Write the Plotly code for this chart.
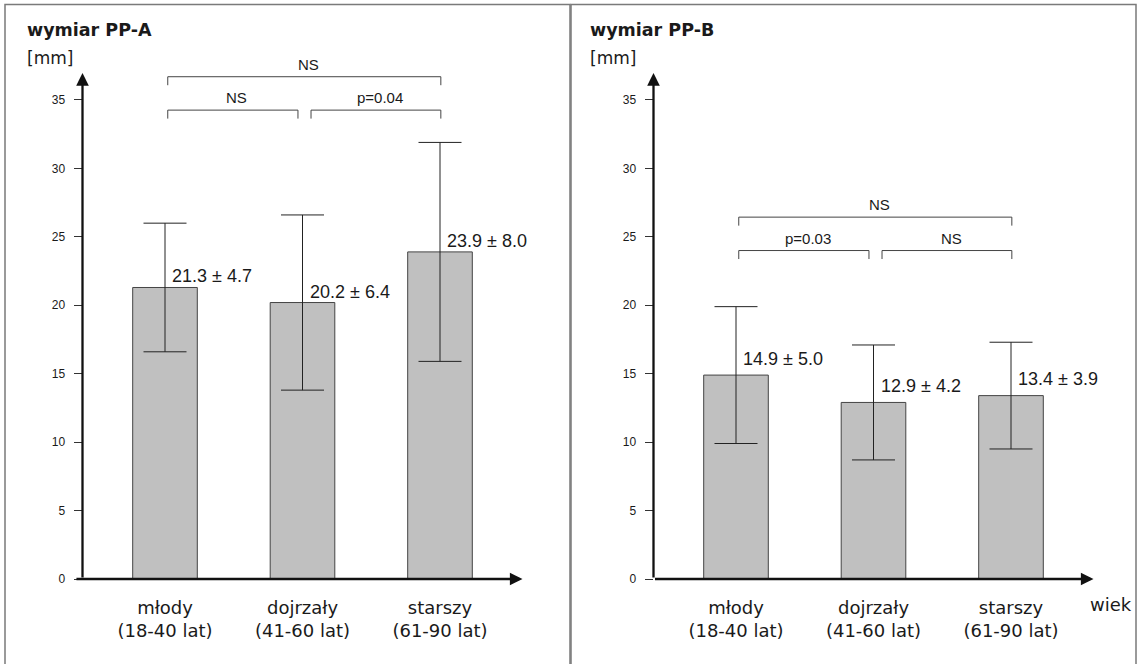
import plotly.graph_objects as go

# ---------------- data ----------------
categories = ["młody<br>(18-40 lat)", "dojrzały<br>(41-60 lat)", "starszy<br>(61-90 lat)"]
x_pos = [0, 1, 2]
pp_a_mean = [21.3, 20.2, 23.9]
pp_a_sd = [4.7, 6.4, 8.0]
pp_b_mean = [14.9, 12.9, 13.4]
pp_b_sd = [5.0, 4.2, 3.9]
y_ticks = [0, 5, 10, 15, 20, 25, 30, 35]
pp_a_tests = [(0, 2, "NS"), (0, 1, "NS"), (1, 2, "p=0.04")]
pp_b_tests = [(0, 2, "NS"), (0, 1, "p=0.03"), (1, 2, "NS")]
titles = ["wymiar PP-A", "wymiar PP-B"]
unit = "[mm]"
x_title = "wiek"

# ---------------- layout constants ----------------
W, H = 1138, 664
Y0_PX, PX_PER_UNIT = 579.0, 13.686
Y_MAX = 40
X_RANGE = [-0.6, 2.6]
ydom = [(H - Y0_PX) / H, (H - (Y0_PX - Y_MAX * PX_PER_UNIT)) / H]
xdoms = [[82.5 / W, 522.5 / W], [653.5 / W, 1093.5 / W]]

TXT = "#1a1a1a"
fig = go.Figure()

panels = [
    (pp_a_mean, pp_a_sd, pp_a_tests, "x", "y", 34.26, 11),
    (pp_b_mean, pp_b_sd, pp_b_tests, "x2", "y2", 24.0, 16.5),
]

annotations = []
shapes = []

for k, (mean, sd, tests, xr, yr, base_level, lab_shift) in enumerate(panels):
    fig.add_trace(go.Bar(
        x=x_pos, y=mean, width=0.47,
        marker=dict(color="#c0c0c0", line=dict(color="#444444", width=1)),
        error_y=dict(type="data", array=sd, visible=True, color="#222222",
                     thickness=1, width=21.5),
        xaxis=xr, yaxis=yr, showlegend=False, hoverinfo="skip",
    ))
    # value labels
    for xi, m, s in zip(x_pos, mean, sd):
        annotations.append(dict(
            x=xi, y=m, xref=xr, yref=yr, text=f"{m:.1f} ± {s:.1f}",
            showarrow=False, xanchor="left", yanchor="middle",
            xshift=5, yshift=lab_shift,
            font=dict(family="Liberation Sans, Arial", size=18, color=TXT),
        ))
    # significance brackets
    for (i, j, lab) in tests:
        level = base_level + (2.44 if j - i == 2 else 0)
        xl = i + (0.02 if i == 0 else 0.062)
        xr_end = j + (-0.033 if j == 1 else 0.006)
        shapes.append(dict(
            type="path", xref=xr, yref=yr,
            path=f"M {xl} {level - 0.62} L {xl} {level} L {xr_end} {level} L {xr_end} {level - 0.62}",
            line=dict(color="#444444", width=1),
        ))
        annotations.append(dict(
            x=(xl + xr_end) / 2 + 0.03, y=level, xref=xr, yref=yr, text=lab,
            showarrow=False, xanchor="center", yanchor="bottom", yshift=2,
            font=dict(family="Liberation Sans, Arial", size=15, color=TXT),
        ))
    # axes with arrows
    annotations.append(dict(
        x=X_RANGE[0], y=36.97, ax=X_RANGE[0], ay=0, xref=xr, yref=yr,
        axref=xr, ayref=yr, text="", showarrow=True, arrowhead=2,
        arrowsize=1.1, arrowwidth=2.3, arrowcolor="#111111",
    ))
    annotations.append(dict(
        x=X_RANGE[1], y=0, ax=(-0.655 if k == 0 else X_RANGE[0]), ay=0, xref=xr, yref=yr,
        axref=xr, ayref=yr, text="", showarrow=True, arrowhead=2,
        arrowsize=1.1, arrowwidth=2.3, arrowcolor="#111111",
    ))

# panel titles
for k, x_left in enumerate([25, 588]):
    annotations.append(dict(
        x=x_left / W, y=(H - 30) / H, xref="paper", yref="paper", text=f"<b>{titles[k]}</b>",
        showarrow=False, xanchor="left", yanchor="middle",
        font=dict(family="DejaVu Sans", size=17.5, color=TXT),
    ))
    annotations.append(dict(
        x=x_left / W, y=(H - 58.5) / H, xref="paper", yref="paper", text=unit,
        showarrow=False, xanchor="left", yanchor="middle",
        font=dict(family="DejaVu Sans", size=17, color=TXT),
    ))

annotations.append(dict(
    x=1088 / W, y=(H - 604) / H, xref="paper", yref="paper", text=x_title,
    showarrow=False, xanchor="left", yanchor="middle",
    font=dict(family="DejaVu Sans", size=18, color=TXT),
))

# panel frames
for (x0, x1) in [(5, 570), (571, 1136)]:
    shapes.append(dict(
        type="rect", xref="paper", yref="paper",
        x0=x0 / W, x1=x1 / W, y0=-0.02, y1=(H - 4.5) / H,
        line=dict(color="#7a7a7a", width=1.5), fillcolor="rgba(0,0,0,0)",
    ))

xaxis_common = dict(
    range=X_RANGE, tickmode="array", tickvals=x_pos, ticktext=categories,
    showgrid=False, zeroline=False, showline=False, ticks="",
    tickfont=dict(family="DejaVu Sans", size=18, color=TXT), fixedrange=True,
    automargin=False, ticklabelstandoff=16,
)
yaxis_common = dict(
    range=[0, Y_MAX], domain=ydom, tickmode="array", tickvals=y_ticks,
    showgrid=False, zeroline=False, showline=False,
    ticks="outside", ticklen=8, tickwidth=1, tickcolor="#333333",
    tickfont=dict(family="Liberation Sans, Arial", size=12, color=TXT),
    ticklabelstandoff=6, fixedrange=True, automargin=False,
)

fig.update_layout(
    width=W, height=H, autosize=False,
    margin=dict(l=0, r=0, t=0, b=0),
    paper_bgcolor="white", plot_bgcolor="white",
    xaxis=dict(domain=xdoms[0], anchor="y", **xaxis_common),
    yaxis=dict(anchor="x", **yaxis_common),
    xaxis2=dict(domain=xdoms[1], anchor="y2", **xaxis_common),
    yaxis2=dict(anchor="x2", **yaxis_common),
    annotations=annotations, shapes=shapes, bargap=0.5,
)

fig.write_html("out.html")
